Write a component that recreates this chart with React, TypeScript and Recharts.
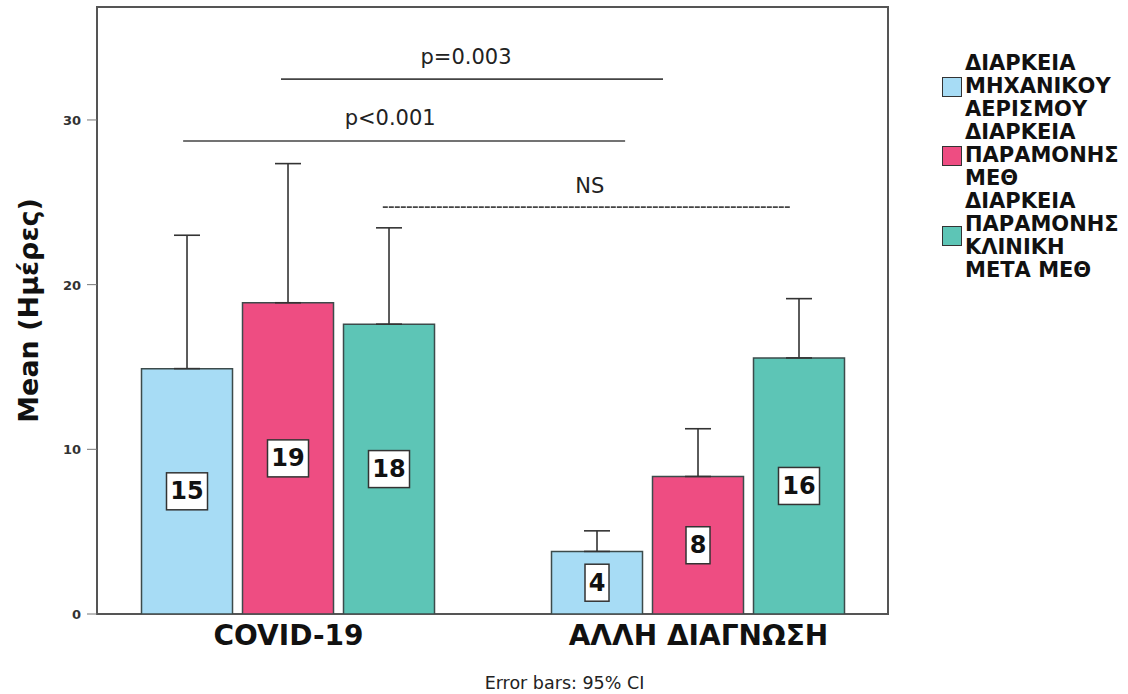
import React from 'react';
import { ComposedChart, Bar, XAxis, YAxis, ErrorBar, LabelList, ReferenceLine, ReferenceDot, ReferenceArea } from 'recharts';

const categories = ['COVID-19', 'ΑΛΛΗ ΔΙΑΓΝΩΣΗ'];
const mvMean = [14.9, 3.8];
const mvUpper = [23.0, 5.05];
const icuMean = [18.9, 8.35];
const icuUpper = [27.35, 11.25];
const wardMean = [17.6, 15.55];
const wardUpper = [23.45, 19.15];
const yTicks = [0, 10, 20, 30];
const yMax = 36.86;
const xMin = -0.4671;
const xMax = 1.4622;

const series = [
  { key: 'mv', name: ['ΔΙΑΡΚΕΙΑ', 'ΜΗΧΑΝΙΚΟΥ', 'ΑΕΡΙΣΜΟΥ'], color: '#a7dcf5' },
  { key: 'icu', name: ['ΔΙΑΡΚΕΙΑ', 'ΠΑΡΑΜΟΝΗΣ', 'ΜΕΘ'], color: '#ee4d82' },
  { key: 'ward', name: ['ΔΙΑΡΚΕΙΑ', 'ΠΑΡΑΜΟΝΗΣ', 'ΚΛΙΝΙΚΗ', 'ΜΕΤΑ ΜΕΘ'], color: '#5dc5b6' },
];

const sigLines = [
  { label: 'p=0.003', x1: -0.0183, x2: 0.9134, y: 32.48, tx: 0.433, ty: 33.8, dashed: false },
  { label: 'p<0.001', x1: -0.257, x2: 0.821, y: 28.72, tx: 0.248, ty: 30.1, dashed: false },
  { label: 'NS', x1: 0.23, x2: 1.223, y: 24.71, tx: 0.735, ty: 26.0, dashed: true },
];

const data = categories.map((c, i) => ({
  x: i,
  name: c,
  mv: mvMean[i],
  mvErr: [0, mvUpper[i] - mvMean[i]],
  icu: icuMean[i],
  icuErr: [0, icuUpper[i] - icuMean[i]],
  ward: wardMean[i],
  wardErr: [0, wardUpper[i] - wardMean[i]],
}));

const FONT = '"DejaVu Sans", Verdana, sans-serif';

const BoxLabel = (props: any) => {
  const { x, y, width, height, value } = props;
  const txt = String(Math.round(Number(value)));
  const w = txt.length > 1 ? 41 : 24;
  const h = 37;
  const cx = x + width / 2;
  const cy = y + height / 2;
  return (
    <g>
      <rect x={cx - w / 2} y={cy - h / 2} width={w} height={h} fill="#fff" stroke="#333" strokeWidth={1.5} />
      <text x={cx} y={cy + 1} textAnchor="middle" dominantBaseline="middle" fontFamily={FONT} fontWeight="bold" fontSize={24} fill="#111">
        {txt}
      </text>
    </g>
  );
};

const XTick = (props: any) => {
  const { x, y, payload } = props;
  return (
    <text x={x} y={y + 23} textAnchor="middle" fontFamily={FONT} fontWeight="bold" fontSize={28} fill="#111">
      {categories[payload.value]}
    </text>
  );
};

const YTick = (props: any) => {
  const { x, y, payload } = props;
  return (
    <text x={x} y={y} dy={5} textAnchor="end" fontFamily={FONT} fontWeight="bold" fontSize={13} fill="#333">
      {payload.value}
    </text>
  );
};

export default function App() {
  return (
    <div style={{ position: 'absolute', left: 0, top: 0, width: 1128, height: 694, background: '#fff' }}>
      <ComposedChart
        width={1128}
        height={694}
        data={data}
        margin={{ top: 7, right: 240, bottom: 0, left: 0 }}
        barSize={91}
        barGap={10}
      >
        <XAxis
          dataKey="x"
          type="number"
          domain={[xMin, xMax]}
          ticks={[0, 1]}
          allowDataOverflow
          height={80}
          tickLine={false}
          axisLine={false}
          tick={<XTick />}
          label={({ viewBox }: any) => (
            <text x={viewBox.x + viewBox.width * 0.591} y={viewBox.y + 75} textAnchor="middle" fontFamily={FONT} fontSize={17.5} fill="#222">
              Error bars: 95% CI
            </text>
          )}
        />
        <YAxis
          type="number"
          domain={[0, yMax]}
          ticks={yTicks}
          allowDataOverflow
          width={97}
          axisLine={false}
          tickLine={{ stroke: '#777', strokeWidth: 1 }}
          tickSize={10}
          tickMargin={6}
          tick={<YTick />}
          label={({ viewBox }: any) => (
            <text
              x={viewBox.x + 38}
              y={viewBox.y + viewBox.height / 2}
              transform={`rotate(-90, ${viewBox.x + 38}, ${viewBox.y + viewBox.height / 2})`}
              textAnchor="middle"
              fontFamily={FONT}
              fontWeight="bold"
              fontSize={27}
              fill="#111"
            >
              Mean (Ημέρες)
            </text>
          )}
        />
        <ReferenceArea x1={xMin} x2={xMax} y1={0} y2={yMax} fill="none" stroke="#555" strokeWidth={2} ifOverflow="visible" />
        {series.map((s) => (
          <Bar key={s.key} dataKey={s.key} fill={s.color} stroke="#3c4b4b" strokeWidth={1.5} isAnimationActive={false}>
            <ErrorBar dataKey={`${s.key}Err`} width={13} stroke="#333" strokeWidth={1.6} direction="y" />
            <LabelList dataKey={s.key} content={<BoxLabel />} />
          </Bar>
        ))}
        {sigLines.map((l) => (
          <ReferenceLine
            key={l.label}
            segment={[{ x: l.x1, y: l.y }, { x: l.x2, y: l.y }]}
            stroke="#444"
            strokeWidth={1.6}
            strokeDasharray={l.dashed ? '5 1' : undefined}
            ifOverflow="visible"
          />
        ))}
        {sigLines.map((l) => (
          <ReferenceDot
            key={l.label + 't'}
            x={l.tx}
            y={l.ty}
            r={0}
            fill="none"
            stroke="none"
            ifOverflow="visible"
            label={({ viewBox }: any) => (
              <text x={viewBox.x + (viewBox.width || 0) / 2} y={viewBox.y + (viewBox.height || 0) / 2} dy={7} textAnchor="middle" fontFamily={FONT} fontSize={21} fill="#222">
                {l.label}
              </text>
            )}
          />
        ))}
      </ComposedChart>
      <div style={{ position: 'absolute', left: 942, top: 52, fontFamily: FONT, fontWeight: 'bold', fontSize: 21, lineHeight: '23px', color: '#111' }}>
        {series.map((s) => (
          <div key={s.key} style={{ display: 'flex', alignItems: 'center' }}>
            <div style={{ width: 18, height: 18, background: s.color, border: '1.5px solid #333', marginRight: 3, flex: 'none' }} />
            <div>
              {s.name.map((n) => (
                <div key={n}>{n}</div>
              ))}
            </div>
          </div>
        ))}
      </div>
    </div>
  );
}
